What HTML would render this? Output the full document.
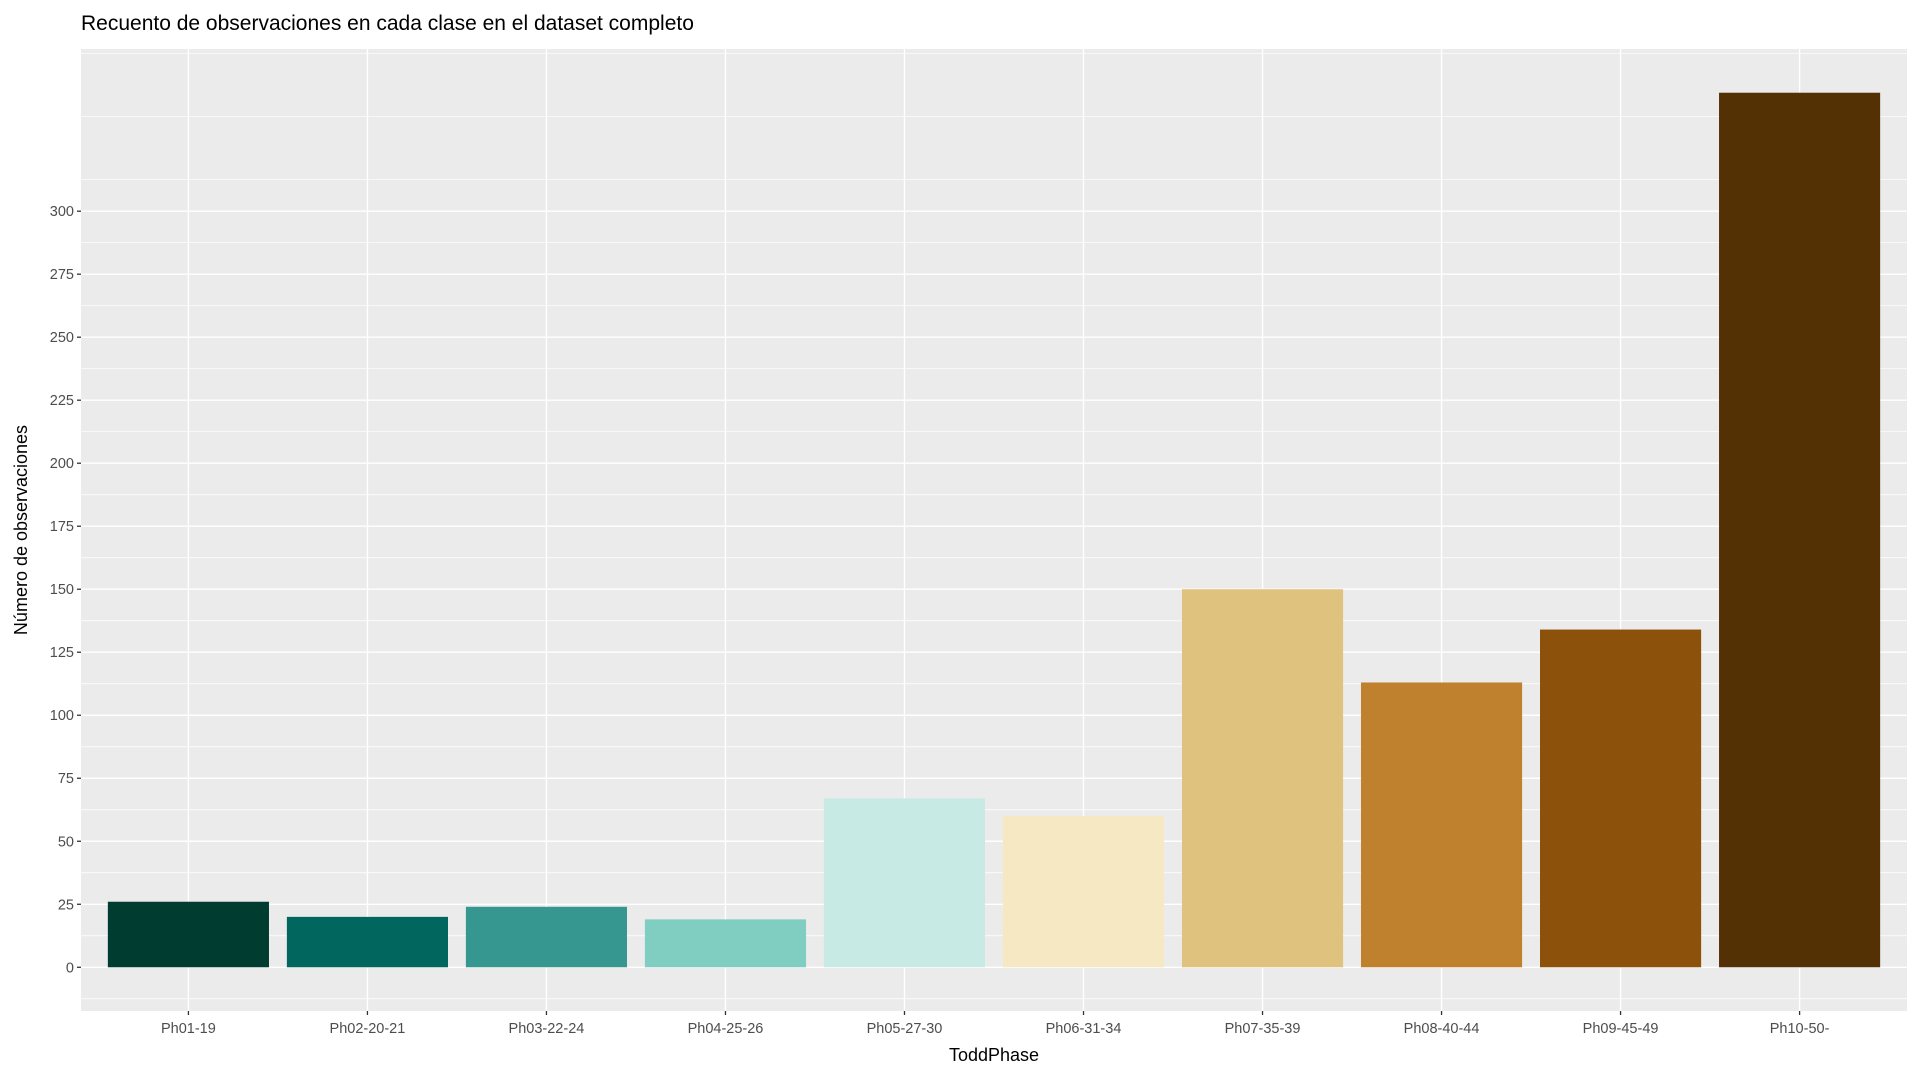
<!DOCTYPE html>
<html><head><meta charset="utf-8"><style>
html,body{margin:0;padding:0;background:#fff;}
svg{display:block;font-family:"Liberation Sans",Arial,sans-serif;}
</style></head><body>
<svg id="chart" width="1920" height="1080" viewBox="0 0 1920 1080">
<rect x="0" y="0" width="1920" height="1080" fill="#fff"/>
<text x="81" y="30" font-size="21" fill="#000">Recuento de observaciones en cada clase en el dataset completo</text>
<rect x="81" y="49" width="1826" height="962" fill="#EBEBEB"/>
<g id="grid"></g><g id="bars"></g><g id="axes"></g>
<text x="994" y="1061" font-size="18" text-anchor="middle" fill="#000">ToddPhase</text>
<text transform="translate(27,530) rotate(-90)" font-size="18" text-anchor="middle" fill="#000">Número de observaciones</text>
</svg>
<script>
const categories=["Ph01-19","Ph02-20-21","Ph03-22-24","Ph04-25-26","Ph05-27-30","Ph06-31-34","Ph07-35-39","Ph08-40-44","Ph09-45-49","Ph10-50-"];
const counts=[26,20,24,19,67,60,150,113,134,347];
const colors=["#003C30","#01665E","#35978F","#80CDC1","#C7EAE5","#F6E8C3","#DFC27D","#BF812D","#8C510A","#543005"];
const yTicks=[0,25,50,75,100,125,150,175,200,225,250,275,300];
const NS="http://www.w3.org/2000/svg";
const L=81,R=1907,T=49,B=1011;
const maxV=Math.max(...counts);
const yMin=-0.05*maxV,yMax=maxV*1.05;
function y(v){return B-(v-yMin)/(yMax-yMin)*(B-T);}
const step=(R-L)/(categories.length-1+1.2);
function x(i){return L+step*(0.6+i);}
function mk(tag,attrs,parent){const e=document.createElementNS(NS,tag);for(const k in attrs)e.setAttribute(k,attrs[k]);parent.appendChild(e);return e;}
const grid=document.getElementById('grid'),bars=document.getElementById('bars'),axes=document.getElementById('axes');
for(let v=-12.5;v<=yMax;v+=25){if(v<yMin)continue;
 const ln=mk('line',{x1:L,x2:R,y1:y(v),y2:y(v),stroke:'#fff','stroke-width':0.7},grid);
 
 }
yTicks.forEach(v=>{
 const ln=mk('line',{x1:L,x2:R,y1:y(v),y2:y(v),stroke:'#fff','stroke-width':1.4},grid);
 
 
 const tk=mk('line',{x1:L-4,x2:L,y1:y(v),y2:y(v),stroke:'#333','stroke-width':1.3},axes);
 
 
 const t=mk('text',{x:L-7,y:y(v)+5,'font-size':14.5,'text-anchor':'end',fill:'#4D4D4D'},axes);
 t.textContent=v;
 
 
});
categories.forEach((c,i)=>{
 const cx=x(i);
 const ln=mk('line',{x1:cx,x2:cx,y1:T,y2:B,stroke:'#fff','stroke-width':1.4},grid);
 
 
 const w=step*0.9;
 const r=mk('rect',{x:cx-w/2,y:y(counts[i]),width:w,height:y(0)-y(counts[i]),fill:colors[i]},bars);
 
 
 const tk=mk('line',{x1:cx,x2:cx,y1:B,y2:B+4,stroke:'#333','stroke-width':1.3},axes);
 
 
 const t=mk('text',{x:cx,y:B+22,'font-size':14.5,'text-anchor':'middle',fill:'#4D4D4D'},axes);
 t.textContent=c;
 
 
});
</script>
</body></html>
